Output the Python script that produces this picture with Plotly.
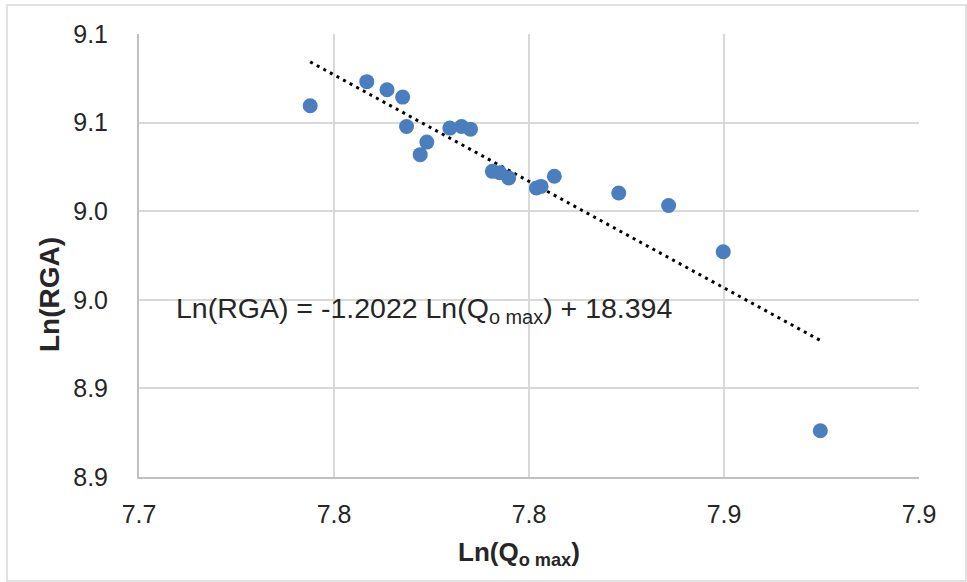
import plotly.graph_objects as go

# Data
ln_qo_max = [7.7439, 7.7584, 7.7636, 7.7676, 7.7686, 7.7738, 7.7721, 7.7797, 7.7827, 7.7850,
             7.7906, 7.7925, 7.7948, 7.8019, 7.8031, 7.8065, 7.8230, 7.8358, 7.8498, 7.8747]
ln_rga = [9.0595, 9.0731, 9.0685, 9.0644, 9.0478, 9.0390, 9.0319, 9.0469, 9.0478, 9.0463,
          9.0225, 9.0217, 9.0187, 9.0131, 9.0140, 9.0197, 9.0103, 9.0032, 8.9771, 8.8761]

trend_slope = -1.2022
trend_intercept = 18.394

x_tickvals = [7.70, 7.75, 7.80, 7.85, 7.90]
x_ticktext = ["7.7", "7.8", "7.8", "7.9", "7.9"]
y_tickvals = [8.85, 8.90, 8.95, 9.00, 9.05, 9.10]
y_ticktext = ["8.9", "8.9", "9.0", "9.0", "9.1", "9.1"]

equation_text = "Ln(RGA) = -1.2022 Ln(Q<sub>o max</sub>) + 18.394"
x_title = "<b>Ln(Q<sub>o max</sub>)</b>"
y_title = "<b>Ln(RGA)</b>"

FONT = "Liberation Sans, Arial, sans-serif"

x_min, x_max = min(ln_qo_max), max(ln_qo_max)
trend_x = [x_min, x_max]
trend_y = [trend_slope * v + trend_intercept for v in trend_x]

fig = go.Figure()
fig.add_trace(go.Scatter(
    x=trend_x, y=trend_y, mode="lines",
    line=dict(color="black", width=3, dash="3px,4.5px"),
    hoverinfo="skip", showlegend=False,
))
fig.add_trace(go.Scatter(
    x=ln_qo_max, y=ln_rga, mode="markers",
    marker=dict(color="#4A7EBF", size=15, line=dict(width=0)),
    showlegend=False,
))

fig.update_layout(
    width=967, height=582,
    margin=dict(l=139, r=48, t=34, b=105),
    paper_bgcolor="white", plot_bgcolor="white",
    font=dict(family=FONT, size=25, color="#262626"),
    xaxis=dict(
        range=[7.70, 7.90], tickmode="array", tickvals=x_tickvals, ticktext=x_ticktext,
        showgrid=True, gridcolor="#d9d9d9", gridwidth=1.5,
        showline=True, linecolor="#c0c0c0", linewidth=2,
        ticks="", ticklabelstandoff=14, zeroline=False,
        tickfont=dict(size=25, color="#262626"),
    ),
    yaxis=dict(
        range=[8.85, 9.10], tickmode="array", tickvals=y_tickvals, ticktext=y_ticktext,
        showgrid=True, gridcolor="#d9d9d9", gridwidth=1.5,
        showline=True, linecolor="#c0c0c0", linewidth=2,
        ticks="", ticklabelstandoff=24, zeroline=False,
        tickfont=dict(size=25, color="#262626"),
    ),
    shapes=[dict(
        type="rect", xref="paper", yref="paper",
        x0=-0.1692, x1=1.0603, y0=-0.2348, y1=1.0655,
        line=dict(color="#d9d9d9", width=1.5), fillcolor="rgba(0,0,0,0)", layer="below",
    )],
    annotations=[
        dict(text=equation_text, xref="paper", yref="paper",
             x=(174 - 139) / 780, y=(477 - 310) / 443, xanchor="left", yanchor="middle",
             showarrow=False, font=dict(size=28.5, color="#262626", family=FONT)),
        dict(text=x_title, xref="paper", yref="paper",
             x=(519 - 139) / 780, y=(477 - 553) / 443, xanchor="center", yanchor="middle",
             showarrow=False, font=dict(size=26, color="#262626", family=FONT)),
        dict(text=y_title, xref="paper", yref="paper", textangle=-90,
             x=(49 - 139) / 780, y=(477 - 295) / 443, xanchor="center", yanchor="middle",
             showarrow=False, font=dict(size=28, color="#262626", family=FONT)),
    ],
)

fig.write_html("out.html")
